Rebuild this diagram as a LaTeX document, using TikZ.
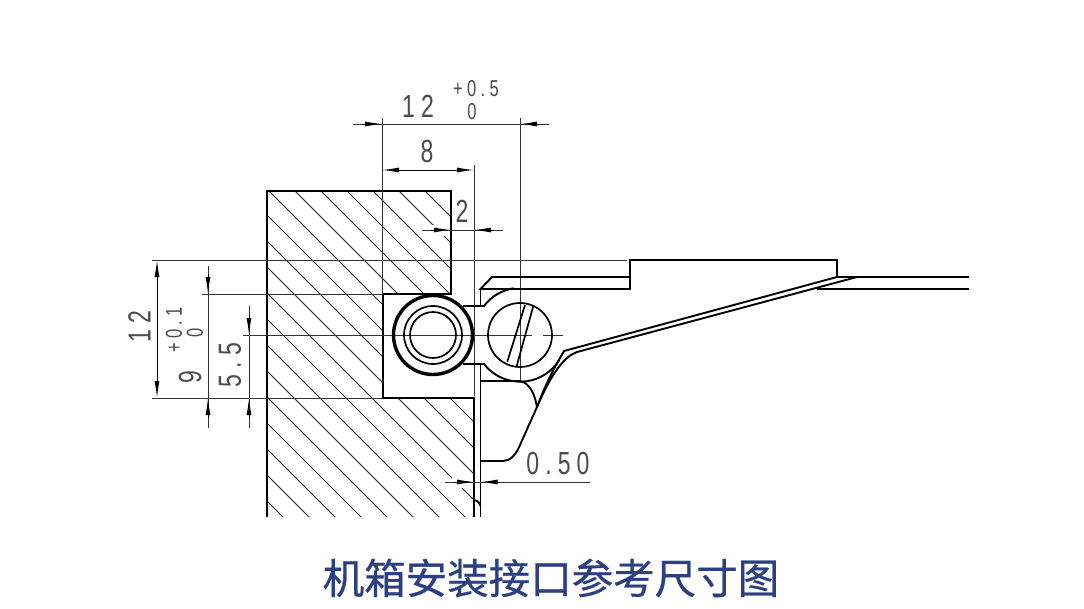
\documentclass[tikz,border=0pt]{standalone}
\usepackage{fontspec}
\usepackage{tikz}
\usetikzlibrary{arrows.meta}
\newfontfamily\dimfont[FakeStretch=0.72,LetterSpace=19]{Liberation Sans}
\newfontfamily\cjk[FakeBold=0.7]{Noto Sans CJK SC}
\definecolor{titleblue}{HTML}{2B3F82}
\tikzset{
	outline/.style={draw=black,line width=1.9pt,line join=miter},
	thinline/.style={draw=black!80,line width=1pt},
	hatchline/.style={draw=black!85,line width=.9pt},
	dimtip/.style={draw=black,line width=1pt,-{Latex[length=17pt,width=5pt]}},
	dimboth/.style={draw=black,line width=1pt,{Latex[length=17pt,width=5pt]}-{Latex[length=17pt,width=5pt]}},
	dimbig/.style={inner sep=0pt,text=black!70,font=\dimfont\fontsize{32}{32}\selectfont},
	dimsmall/.style={inner sep=0pt,text=black!70,font=\dimfont\fontsize{23}{23}\selectfont},
}
\begin{document}
\begin{tikzpicture}[x=1pt,y=-1pt]
	\useasboundingbox[fill=white] (0,0) rectangle (1084,608);
	\coordinate (ring) at (433,335);
	\coordinate (screw) at (520,335);
	
	% hatched body
	\begin{scope}
		\clip (267,191) -- (451,191) -- (451,294) -- (383,294) -- (383,398) -- (474,398) -- (474,517) -- (267,517) -- cycle;
		\foreach \c in {-260,-234,...,260}
			\draw[hatchline] (267,267+\c) -- (520,520+\c);
		\fill[white] (428,225) rectangle (451,236);
		\fill[white] (452,477) rectangle (474,488);
	\end{scope}
	\draw[outline] (267,517) -- (267,191) -- (451,191) -- (451,294) -- (383,294) -- (383,398) -- (474,398) -- (474,517);
	
	% extension lines
	\draw[thinline] (382,118) -- (382,294);
	\draw[thinline] (520,118) -- (520,381);
	\draw[thinline] (474,165) -- (474,396);
	\draw[thinline] (152,260) -- (627,260);
	\draw[thinline] (202,294) -- (382,294);
	\draw[thinline] (152,398) -- (382,398);
	\draw[thinline] (243,335) -- (532,335);
	\draw[thinline] (543,335) -- (563,335);
	
	% roller and screw
	\draw[line width=3.4pt] (ring) circle[radius=39.5pt];
	\draw[line width=1.7pt] (ring) circle[radius=29pt];
	\draw[line width=1.7pt] (ring) circle[radius=23pt];
	\draw[line width=1.7pt] (screw) circle[radius=32pt];
	\draw[line width=1.7pt] (507.3,361.7) -- (525,305);
	\draw[line width=1.7pt] (516.7,366) -- (533.3,306);
	
	% cover
	\draw[outline] (969,277) -- (837,277) -- (837,260) -- (630,260) -- (630,289) -- (480.5,289) -- (492,277) -- (630,277);
	\draw[outline] (817,289) -- (969,289);
	\draw[outline] (480.5,289) -- (480.5,307);
	\draw[outline] (480.5,364) -- (480.5,517);
	\draw[outline] (463,306) -- (484,306) arc[start angle=143,end angle=98.7,radius=46pt];
	\draw[outline] (463,364) -- (484,364) arc[start angle=218,end angle=328,radius=46pt];
	\draw[outline] (480.5,381) -- (520,381) .. controls (530,383) and (535,395) .. (537,407);
	\draw[outline] (837,277) -- (564,351) .. controls (556,365) and (548,378) .. (537,407) -- (520,445) .. controls (516,455) and (510,461) .. (503,461) -- (480.5,461);
	\draw[outline] (857,277) -- (577,352) .. controls (565,356) and (552,372) .. (537,407);
	\draw[outline] (474,500) .. controls (478,501) and (480,503) .. (480.5,506);
	
	% dimensions
	\draw[thinline] (353,124) -- (549,124);
	\draw[dimtip] (362,124) -- (382,124);
	\draw[dimtip] (540,124) -- (520,124);
	\draw[dimboth] (382,170) -- (474,170);
	\draw[thinline] (422,230) -- (503,230);
	\draw[dimtip] (431,230) -- (451,230);
	\draw[dimtip] (494,230) -- (474,230);
	\draw[dimboth] (157,260) -- (157,398);
	\draw[thinline] (208,266) -- (208,428);
	\draw[dimtip] (208,274) -- (208,294);
	\draw[dimtip] (208,418) -- (208,398);
	\draw[thinline] (249,306) -- (249,428);
	\draw[dimtip] (249,315) -- (249,335);
	\draw[dimtip] (249,418) -- (249,398);
	\draw[thinline] (445,482) -- (590,482);
	\draw[dimtip] (454,482) -- (474,482);
	\draw[dimtip] (500,482) -- (480.5,482);
	
	\node[dimbig] (topwidth) at (418,106) {12};
	\node[dimsmall] (topupper) at (476,89) {+0.5};
	\node[dimsmall] (toplower) at (472,112) {0};
	\node[dimbig] (depth) at (427,151) {8};
	\node[dimbig] (lip) at (462,211) {2};
	\node[dimbig,rotate=90] (height) at (139.5,327) {12};
	\node[dimbig,rotate=90] (slot) at (190,377) {9};
	\node[dimsmall,rotate=90] (slotupper) at (174,330) {+0.1};
	\node[dimsmall,rotate=90] (slotlower) at (195,333) {0};
	\node[dimbig,rotate=90] (axis) at (230,365) {5.5};
	\node[dimbig] (gap) at (558,463) {0.50};
	
	\node[inner sep=0pt,text=titleblue,font=\cjk\fontsize{41.5}{41.5}\selectfont] (title) at (551,578) {机箱安装接口参考尺寸图};
\end{tikzpicture}
\end{document}
